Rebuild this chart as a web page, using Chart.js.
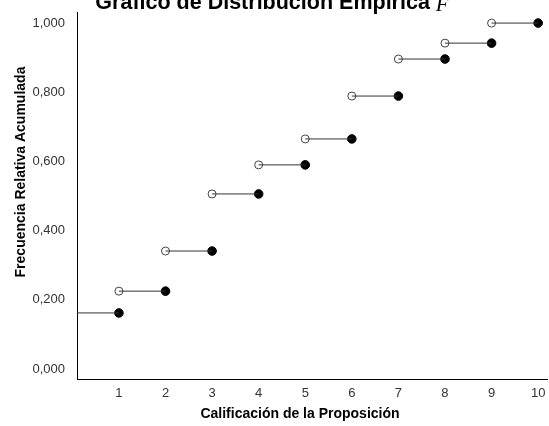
<!DOCTYPE html>
<html>
<head>
<meta charset="utf-8">
<script src="https://cdn.jsdelivr.net/npm/chart.js@4"></script>
<style>
  html, body { margin: 0; padding: 0; background: #fff; }
</style>
</head>
<body>
<canvas id="ecdfChart" width="549" height="426"></canvas>
<script>
// datos
const calificaciones = [1, 2, 3, 4, 5, 6, 7, 8, 9, 10];
// frecuencia relativa acumulada en cada punto cerrado (x = calificación)
const frecCerrada = [0.162, 0.225, 0.341, 0.506, 0.590, 0.665, 0.789, 0.896, 0.942, 1.000];
const yTicks = [0, 0.2, 0.4, 0.6, 0.8, 1.0];
const xMin = 0.1, xMax = 10.19;
const yMin = -0.029, yMax = 1.032;

const FONT = "'Liberation Sans', Arial, sans-serif";

// puntos abiertos: inicio de cada escalón
const abiertos = calificaciones.slice(0, -1).map((x, i) => ({ x, y: frecCerrada[i + 1] }));
const cerrados = calificaciones.map((x, i) => ({ x, y: frecCerrada[i] }));

// segmentos horizontales, separados por huecos
const segmentos = [{ x: xMin, y: frecCerrada[0] }, { x: 1, y: frecCerrada[0] }];
abiertos.forEach((p, i) => {
  segmentos.push({ x: p.x + 0.5, y: null });
  segmentos.push({ x: p.x, y: p.y });
  segmentos.push({ x: calificaciones[i + 1], y: p.y });
});

// 🏷️ títulos
const textos = {
  id: "textos",
  afterDraw(chart) {
    const ctx = chart.ctx;
    ctx.save();
    ctx.fillStyle = "#000";
    ctx.textBaseline = "alphabetic";

    // título principal (cortado arriba como en el original)
    const t1 = "Gráfico de Distribución Empírica ";
    ctx.font = "bold 21.5px " + FONT;
    const w1 = ctx.measureText(t1).width;
    ctx.font = "italic 21px 'Liberation Serif', 'Times New Roman', serif";
    const w2 = ctx.measureText("F").width;
    let x0 = 272 - (w1 + w2) / 2;
    ctx.font = "bold 21.5px " + FONT;
    ctx.textAlign = "left";
    ctx.fillText(t1, x0, 9);
    ctx.font = "italic 21px 'Liberation Serif', 'Times New Roman', serif";
    ctx.fillText("F", x0 + w1, 11);

    // eje x
    ctx.font = "bold 14px " + FONT;
    ctx.textAlign = "center";
    ctx.fillText("Calificación de la Proposición", 300, 418);

    // eje y
    ctx.translate(25, 172);
    ctx.rotate(-Math.PI / 2);
    ctx.fillText("Frecuencia Relativa Acumulada", 0, 0);
    ctx.restore();
  }
};

const ctx = document.getElementById("ecdfChart").getContext("2d");
new Chart(ctx, {
  type: "scatter",
  data: {
    datasets: [
      {
        label: "escalones",
        data: segmentos,
        showLine: true,
        spanGaps: false,
        borderColor: "#333",
        borderWidth: 1,
        pointRadius: 0,
        clip: false
      },
      {
        label: "abiertos",
        data: abiertos,
        pointRadius: 4,
        pointBackgroundColor: "#fff",
        pointBorderColor: "#444",
        pointBorderWidth: 1,
        clip: false
      },
      {
        label: "cerrados",
        data: cerrados,
        pointRadius: 4.3,
        pointBackgroundColor: "#000",
        pointBorderColor: "#000",
        pointBorderWidth: 1,
        clip: false
      }
    ]
  },
  options: {
    responsive: false,
    animation: false,
    devicePixelRatio: 1,
    layout: { autoPadding: false, padding: { top: 12, right: 2, left: 0, bottom: 0 } },
    plugins: {
      legend: { display: false },
      tooltip: { enabled: false },
      title: { display: false }
    },
    scales: {
      x: {
        type: "linear",
        min: xMin,
        max: xMax,
        afterBuildTicks: s => { s.ticks = calificaciones.map(v => ({ value: v })); },
        afterFit: s => { s.height = 47; },
        // marcas invisibles: separan las etiquetas sin recortar el área
        grid: { drawOnChartArea: false, drawTicks: true, tickLength: 7, tickColor: "rgba(0,0,0,0)" },
        border: { color: "#000", width: 1 },
        ticks: {
          color: "#333",
          font: { family: FONT, size: 13 },
          padding: 0,
          maxRotation: 0,
          autoSkip: false,
          callback: v => v
        }
      },
      y: {
        min: yMin,
        max: yMax,
        afterBuildTicks: s => { s.ticks = yTicks.map(v => ({ value: v })); },
        afterFit: s => { s.width = 77; },
        grid: { drawOnChartArea: false, drawTicks: true, tickLength: 12, tickColor: "rgba(0,0,0,0)" },
        border: { color: "#000", width: 1 },
        ticks: {
          color: "#333",
          font: { family: FONT, size: 13 },
          padding: 0,
          callback: v => v.toFixed(3).replace(".", ",")
        }
      }
    }
  },
  plugins: [textos]
});
</script>
</body>
</html>
